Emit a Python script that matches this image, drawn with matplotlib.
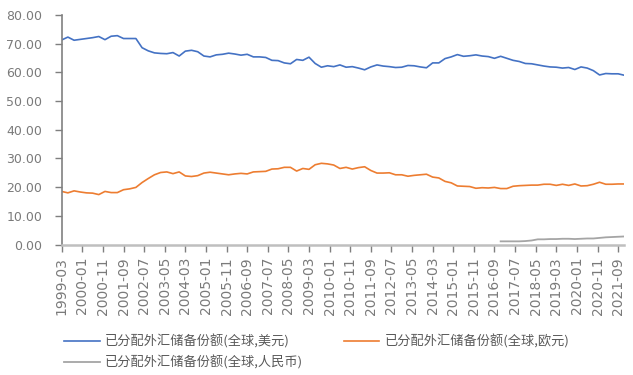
import numpy as np
import matplotlib
matplotlib.use("Agg")
import matplotlib.pyplot as plt

plt.rcParams['font.family'] = ['Noto Sans CJK SC', 'DejaVu Sans']

# quarterly shares (%), first point 1999-03, last 2021-12
usd = [71.3, 72.3, 71.2, 71.5, 71.8, 72.1, 72.5, 71.4, 72.6, 72.8,
       71.8, 71.8, 71.8, 68.6, 67.5, 66.8, 66.6, 66.5, 66.9, 65.7,
       67.4, 67.7, 67.2, 65.7, 65.4, 66.1, 66.3, 66.7, 66.4, 66.0,
       66.3, 65.4, 65.4, 65.2, 64.2, 64.1, 63.3, 63.0, 64.5, 64.2,
       65.3, 63.1, 61.8, 62.3, 62.0, 62.6, 61.8, 62.0, 61.5, 60.9,
       61.9, 62.6, 62.2, 62.0, 61.7, 61.8, 62.4, 62.3, 61.9, 61.6,
       63.3, 63.3, 64.8, 65.4, 66.2, 65.6, 65.8, 66.1, 65.7, 65.5,
       64.9, 65.6, 64.9, 64.2, 63.8, 63.1, 63.0, 62.6, 62.2, 61.9,
       61.8, 61.5, 61.7, 61.0, 61.9, 61.5, 60.6, 59.1, 59.6, 59.5,
       59.5, 59.0]
eur = [18.5, 18.0, 18.7, 18.3, 18.0, 17.9, 17.4, 18.5, 18.1, 18.1,
       19.1, 19.4, 19.9, 21.6, 23.0, 24.3, 25.1, 25.3, 24.7, 25.3,
       23.9, 23.7, 24.0, 24.9, 25.2, 24.9, 24.6, 24.3, 24.6, 24.8,
       24.6, 25.3, 25.4, 25.5, 26.3, 26.4, 26.9, 26.9, 25.6, 26.5,
       26.2, 27.8, 28.3, 28.1, 27.7, 26.5, 26.9, 26.3, 26.8, 27.1,
       25.8, 24.9, 24.9, 25.0, 24.3, 24.3, 23.8, 24.1, 24.3, 24.5,
       23.5, 23.2, 22.0, 21.5, 20.4, 20.3, 20.2, 19.6, 19.8, 19.7,
       19.9, 19.5, 19.5, 20.3, 20.5, 20.6, 20.7, 20.7, 21.0, 21.0,
       20.6, 21.0, 20.6, 21.1, 20.4, 20.5, 21.0, 21.7, 21.0, 21.0,
       21.1, 21.1]
# RMB reported from 2016-12 on
cny = [1.1, 1.1, 1.1, 1.1, 1.2, 1.4, 1.8, 1.8, 1.9, 1.9,
       2.0, 2.0, 1.9, 2.0, 2.1, 2.1, 2.3, 2.5, 2.6, 2.7, 2.8]

tick_labels = ["1999-03", "2000-01", "2000-11", "2001-09", "2002-07", "2003-05",
               "2004-03", "2005-01", "2005-11", "2006-09", "2007-07", "2008-05",
               "2009-03", "2010-01", "2010-11", "2011-09", "2012-07", "2013-05",
               "2014-03", "2015-01", "2015-11", "2016-09", "2017-07", "2018-05",
               "2019-03", "2020-01", "2020-11", "2021-09"]

names = ["已分配外汇储备份额(全球,美元)",
         "已分配外汇储备份额(全球,欧元)",
         "已分配外汇储备份额(全球,人民币)"]

# x axis counts months from 1999-03
x_usd = np.arange(len(usd)) * 3
x_cny = (len(usd) - len(cny) + np.arange(len(cny))) * 3

fig = plt.figure(figsize=(6.33, 3.75), dpi=100)
ax = fig.add_axes([61.7 / 633, 130.5 / 375, 562.6 / 633, 229.5 / 375])

l1, = ax.plot(x_usd, usd, color="#4472C4", lw=1.2)
l2, = ax.plot(x_usd, eur, color="#ED7D31", lw=1.2)
l3, = ax.plot(x_cny, cny, color="#A5A5A5", lw=1.3)

ax.set_xlim(0, 273)
ax.set_ylim(0, 80)
ax.set_yticks(np.arange(0, 81, 10))
ax.set_yticklabels([f"{v:.2f}" for v in np.arange(0, 81, 10)], family="DejaVu Sans")
ax.set_xticks(np.arange(len(tick_labels)) * 10)
ax.set_xticklabels(tick_labels, rotation=90, family="DejaVu Sans")

ax.tick_params(axis="y", labelsize=9, colors="#7f7f7f", length=5, width=1,
               labelcolor="#7a7a7a", pad=9)
ax.tick_params(axis="x", labelsize=10, colors="#7f7f7f", length=5, width=1,
               labelcolor="#7a7a7a", pad=4)

for s in ["top", "right"]:
    ax.spines[s].set_visible(False)
ax.spines["left"].set_color("#808080")
ax.spines["left"].set_linewidth(1.2)
ax.spines["bottom"].set_color("#bfbfbf")
ax.spines["bottom"].set_linewidth(1.8)

fig.legend([l1, l3, l2], [names[0], names[2], names[1]], ncol=2,
           loc="upper left", bbox_to_anchor=(59 / 633, 1 - 329 / 375),
           frameon=False, fontsize=9.5, handlelength=2.7, handletextpad=0.4,
           columnspacing=3.05, labelspacing=0.55, labelcolor="#595959",
           borderaxespad=0)

fig.savefig("out.png", dpi=100)
